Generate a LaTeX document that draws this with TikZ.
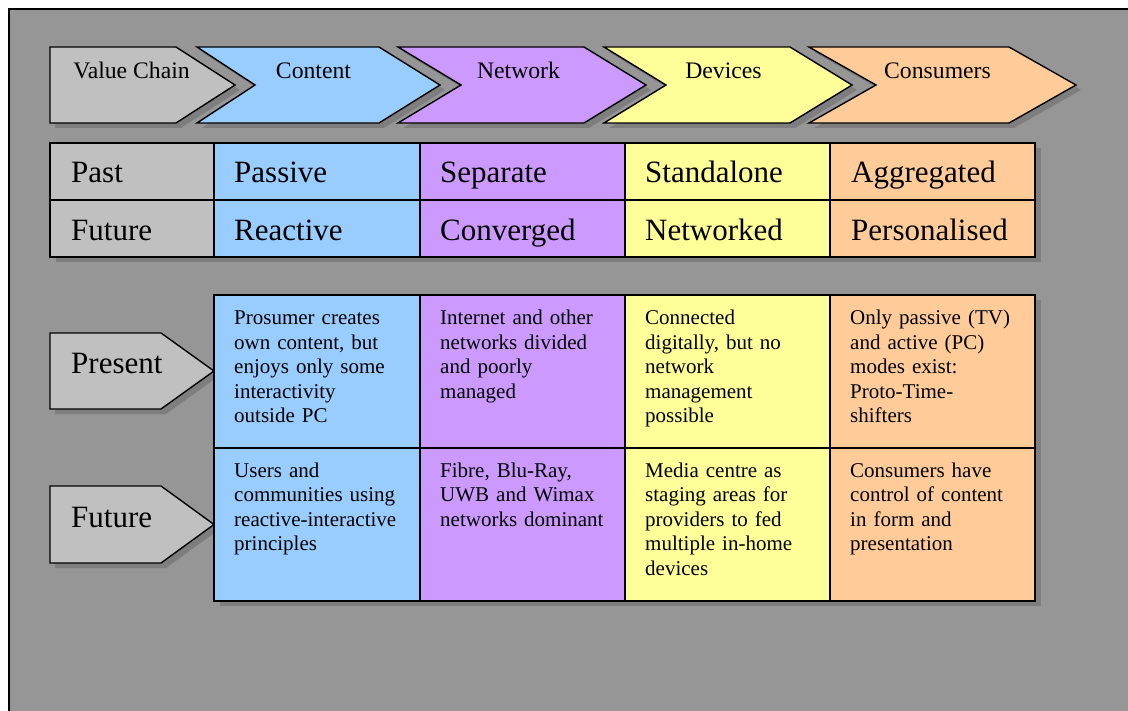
\documentclass[tikz,border=0pt]{standalone}
\usepackage{fontspec}
\setmainfont{Liberation Serif}
\definecolor{pagegrey}{RGB}{150,150,150}
\definecolor{shadowgrey}{RGB}{126,126,126}
\definecolor{cellgrey}{RGB}{192,192,192}
\definecolor{cellblue}{RGB}{153,204,255}
\definecolor{cellpurple}{RGB}{204,153,255}
\definecolor{cellyellow}{RGB}{255,255,153}
\definecolor{cellorange}{RGB}{255,204,153}

% chevron: fill, left x, notch x, shoulder x, tip x (top 47, bottom 123)
\newcommand\stagechevron[5]{%
  \fill[shadowgrey] ({#2+5},52) -- ({#4+5},52) -- ({#5+5},90) -- ({#4+5},128)
    -- ({#2+5},128) -- ({#3+5},90) -- cycle;
  \draw[outline,fill=#1] (#2,47) -- (#4,47) -- (#5,85) -- (#4,123)
    -- (#2,123) -- (#3,85) -- cycle;
}
% side arrow: top y, bottom y
\newcommand\rowarrow[2]{%
  \fill[shadowgrey] (55,{#1+5}) -- (166,{#1+5}) -- (219,{(#1+#2)/2+5})
    -- (166,{#2+5}) -- (55,{#2+5}) -- cycle;
  \draw[outline,fill=cellgrey] (50,#1) -- (161,#1) -- (214,{(#1+#2)/2})
    -- (161,#2) -- (50,#2) -- cycle;
}

\begin{document}
\begin{tikzpicture}[x=1bp,y=-1bp,
  outline/.style={draw=black,line width=1.4bp,line join=miter},
  chevlabel/.style={anchor=base,inner sep=0pt,font=\fontsize{23.7bp}{28bp}\selectfont},
  biglabel/.style={anchor=base west,inner sep=0pt,font=\fontsize{31bp}{36bp}\selectfont},
  bodytext/.style={anchor=base west,inner sep=0pt,text width=190bp,align=left,
    font=\fontsize{21bp}{24.6bp}\selectfont}]
\useasboundingbox (0,0) rectangle (1128,711);
\fill[white] (0,0) rectangle (1128,711);
\begin{scope}
  \clip (0,0) rectangle (1128,711);
  \draw[fill=pagegrey,line width=1.5bp] (9,9) rectangle (1160,740);
\end{scope}

% value chain header
\stagechevron{cellorange}{809}{876}{1009}{1076}
\stagechevron{cellyellow}{604}{666}{790}{852}
\stagechevron{cellpurple}{398}{461}{584}{646}
\stagechevron{cellblue}{197}{255}{379}{440}
\stagechevron{cellgrey}{50}{50}{176}{235}
\node[chevlabel] (hvc)  at (131.5,79) {Value Chain};
\node[chevlabel] (hcon) at (313.5,79) {Content};
\node[chevlabel] (hnet) at (518.5,79) {Network};
\node[chevlabel] (hdev) at (723.5,79) {Devices};
\node[chevlabel] (hcsm) at (937.5,79) {Consumers};

% past / future table
\fill[shadowgrey] (56,148) rectangle (1041,262);
\fill[cellgrey]   (50,143)  rectangle (214,257);
\fill[cellblue]   (214,143) rectangle (420,257);
\fill[cellpurple] (420,143) rectangle (625,257);
\fill[cellyellow] (625,143) rectangle (830,257);
\fill[cellorange] (830,143) rectangle (1035,257);
\draw[outline] (50,143) rectangle (1035,257);
\draw[outline] (50,200) -- (1035,200);
\foreach \cx in {214,420,625,830} \draw[outline] (\cx,143) -- (\cx,257);
\node[biglabel] (tpast) at (71,183) {Past};
\node[biglabel] (tfut)  at (71,240) {Future};
\node[biglabel] (pcon) at (234,183) {Passive};
\node[biglabel] (fcon) at (234,240) {Reactive};
\node[biglabel] (pnet) at (440,183) {Separate};
\node[biglabel] (fnet) at (440,240) {Converged};
\node[biglabel] (pdev) at (645,183) {Standalone};
\node[biglabel] (fdev) at (645,240) {Networked};
\node[biglabel] (pcsm) at (851,183) {Aggregated};
\node[biglabel] (fcsm) at (851,240) {Personalised};

% present / future detail table
\rowarrow{333}{409}
\rowarrow{486}{563}
\node[biglabel] (apres) at (71,373) {Present};
\node[biglabel] (afut)  at (71,527) {Future};

\fill[shadowgrey] (220,300) rectangle (1041,606);
\fill[cellblue]   (214,295) rectangle (420,601);
\fill[cellpurple] (420,295) rectangle (625,601);
\fill[cellyellow] (625,295) rectangle (830,601);
\fill[cellorange] (830,295) rectangle (1035,601);
\draw[outline] (214,295) rectangle (1035,601);
\draw[outline] (214,448) -- (1035,448);
\foreach \cx in {420,625,830} \draw[outline] (\cx,295) -- (\cx,601);

\node[bodytext] (dcon1) at (234,324.5) {Prosumer creates\\own content, but\\enjoys only some\\interactivity\\outside PC};
\node[bodytext] (dnet1) at (440,324.5) {Internet and other\\networks divided\\and poorly\\managed};
\node[bodytext] (ddev1) at (645,324.5) {Connected\\digitally, but no\\network\\management\\possible};
\node[bodytext] (dcsm1) at (850,324.5) {Only passive (TV)\\and active (PC)\\modes exist:\\Proto-Time-\\shifters};
\node[bodytext] (dcon2) at (234,477) {Users and\\communities using\\reactive-interactive\\principles};
\node[bodytext] (dnet2) at (440,477) {Fibre, Blu-Ray,\\UWB and Wimax\\networks dominant};
\node[bodytext] (ddev2) at (645,477) {Media centre as\\staging areas for\\providers to fed\\multiple in-home\\devices};
\node[bodytext] (dcsm2) at (850,477) {Consumers have\\control of content\\in form and\\presentation};
\end{tikzpicture}
\end{document}
